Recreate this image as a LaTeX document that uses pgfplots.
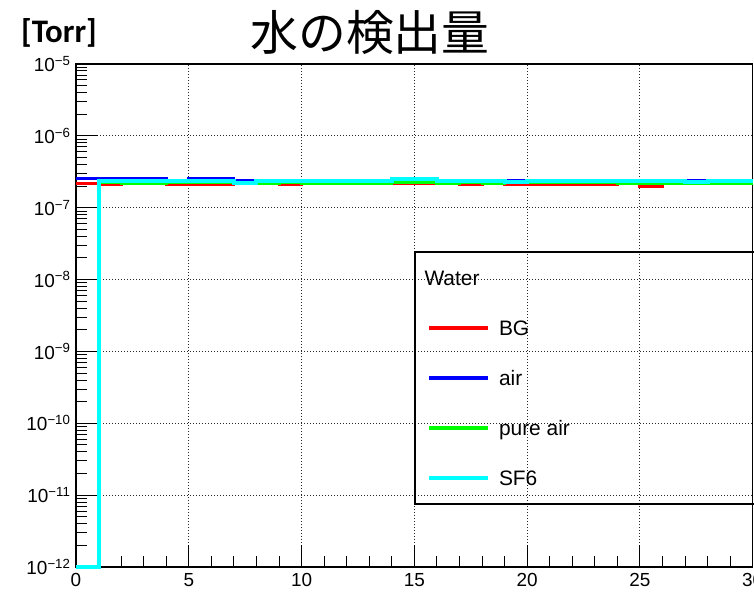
\documentclass[border=0pt]{standalone}
\usepackage{fontspec}
\setmainfont{Liberation Sans}
\newfontfamily\jpfont{Noto Sans CJK JP}
\newfontfamily\torrfont{Carlito}
\usepackage{pgfplots}
\pgfplotsset{compat=1.18}
\definecolor{rred}{RGB}{255,0,0}
\definecolor{rblue}{RGB}{0,0,255}
\definecolor{rgreen}{RGB}{0,255,0}
\definecolor{rcyan}{RGB}{0,255,255}
\begin{document}
\begin{tikzpicture}
\path[use as bounding box] (-76bp,-26bp) rectangle (678bp,567bp);
\begin{axis}[
  at={(0bp,0bp)}, anchor=south west,
  scale only axis, width=676.7bp, height=503bp,
  xmin=0, xmax=30, ymin=1e-12, ymax=1e-5, ymode=log,
  clip=false,
  xtick={0,5,10,15,20,25,30},
  xticklabels={0,5,10,15,20,25,30},
  minor x tick num=4,
  ytick={1e-12,1e-11,1e-10,1e-9,1e-8,1e-7,1e-6,1e-5},
  yticklabels={10\textsuperscript{−12},10\textsuperscript{−11},10\textsuperscript{−10},10\textsuperscript{−9},10\textsuperscript{−8},10\textsuperscript{−7},10\textsuperscript{−6},10\textsuperscript{−5}},
  tick align=inside, xtick pos=left, ytick pos=left,
  major tick length=22bp, minor tick length=11bp,
  every tick/.style={black, line width=1bp},
  grid=major,
  major grid style={black!85, line width=0.9bp, dash pattern=on 1bp off 2bp},
  axis line style={black, line width=1.2bp},
  tick label style={font=\fontsize{19}{21}\selectfont},
  xticklabel style={yshift=-3bp},
  yticklabel style={xshift=-2bp},
  legend cell align=left,
  legend style={at={(axis description cs:0.5187,0.5899)}, anchor=north west,
    draw=none, fill=none, inner sep=0pt, outer sep=0pt,
    row sep=30bp, column sep=9bp,
    font=\fontsize{21}{24}\selectfont,
    nodes={inner sep=0pt, text height=15bp, text depth=5bp}},
  legend image code/.code={\draw[#1, line width=4bp] (0bp,2.5bp) -- (59bp,2.5bp);},
]
\addlegendimage{empty legend}
\addlegendentry{\makebox[0pt][l]{\hspace{-75bp}Water}}
\addplot[const plot mark left, rred, line width=3bp] coordinates {
(0,2.16e-7)(1,2.12e-7)(2,2.16e-7)(3,2.16e-7)(4,2.09e-7)(5,2.09e-7)(6,2.09e-7)(7,2.14e-7)(8,2.14e-7)(9,2.09e-7)
(10,2.14e-7)(11,2.14e-7)(12,2.14e-7)(13,2.14e-7)(14,2.14e-7)(15,2.14e-7)(16,2.14e-7)(17,2.09e-7)(18,2.14e-7)(19,2.09e-7)
(20,2.09e-7)(21,2.09e-7)(22,2.09e-7)(23,2.09e-7)(24,2.14e-7)(25,2.00e-7)(26,2.14e-7)(27,2.14e-7)(28,2.14e-7)(29,2.14e-7)(30,2.14e-7)};
\addlegendentry{BG}
\addplot[const plot mark left, rblue, line width=3bp] coordinates {
(0,2.57e-7)(1,2.57e-7)(2,2.53e-7)(3,2.53e-7)(4,2.35e-7)(5,2.53e-7)(6,2.53e-7)(7,2.43e-7)(8,2.35e-7)(9,2.35e-7)
(10,2.35e-7)(11,2.35e-7)(12,2.35e-7)(13,2.35e-7)(14,2.35e-7)(15,2.35e-7)(16,2.35e-7)(17,2.35e-7)(18,2.35e-7)(19,2.43e-7)
(20,2.35e-7)(21,2.35e-7)(22,2.35e-7)(23,2.35e-7)(24,2.35e-7)(25,2.35e-7)(26,2.35e-7)(27,2.43e-7)(28,2.35e-7)(29,2.35e-7)(30,2.35e-7)};
\addlegendentry{air}
\addplot[const plot mark left, rgreen, line width=3bp] coordinates {
(0,1e-12)(1,2.21e-7)(2,2.17e-7)(3,2.17e-7)(4,2.22e-7)(5,2.22e-7)(6,2.22e-7)(7,2.14e-7)(8,2.14e-7)(9,2.22e-7)
(10,2.14e-7)(11,2.14e-7)(12,2.14e-7)(13,2.14e-7)(14,2.23e-7)(15,2.23e-7)(16,2.14e-7)(17,2.22e-7)(18,2.14e-7)(19,2.22e-7)
(20,2.22e-7)(21,2.22e-7)(22,2.22e-7)(23,2.22e-7)(24,2.14e-7)(25,2.14e-7)(26,2.14e-7)(27,2.14e-7)(28,2.14e-7)(29,2.14e-7)(30,2.14e-7)};
\addlegendentry{pure air}
\addplot[const plot mark left, rcyan, line width=4bp] coordinates {
(0,1e-12)(1,2.33e-7)(2,2.33e-7)(3,2.33e-7)(4,2.33e-7)(5,2.33e-7)(6,2.33e-7)(7,2.24e-7)(8,2.33e-7)(9,2.33e-7)
(10,2.33e-7)(11,2.33e-7)(12,2.33e-7)(13,2.33e-7)(14,2.48e-7)(15,2.48e-7)(16,2.33e-7)(17,2.33e-7)(18,2.33e-7)(19,2.26e-7)
(20,2.33e-7)(21,2.33e-7)(22,2.33e-7)(23,2.33e-7)(24,2.33e-7)(25,2.33e-7)(26,2.33e-7)(27,2.26e-7)(28,2.33e-7)(29,2.33e-7)(30,2.33e-7)};
\addlegendentry{SF6}
\draw[black, line width=1.2bp] (axis description cs:0.501,0.1252) rectangle (axis description cs:1.03,0.6262);
\end{axis}
\node[anchor=center, font=\fontsize{48}{52}\jpfont] at (294bp,535bp) {水の検出量};
\node[anchor=center, font=\fontsize{33}{36}\torrfont\bfseries] at (-17bp,534bp) {[Torr]};
\end{tikzpicture}
\end{document}
